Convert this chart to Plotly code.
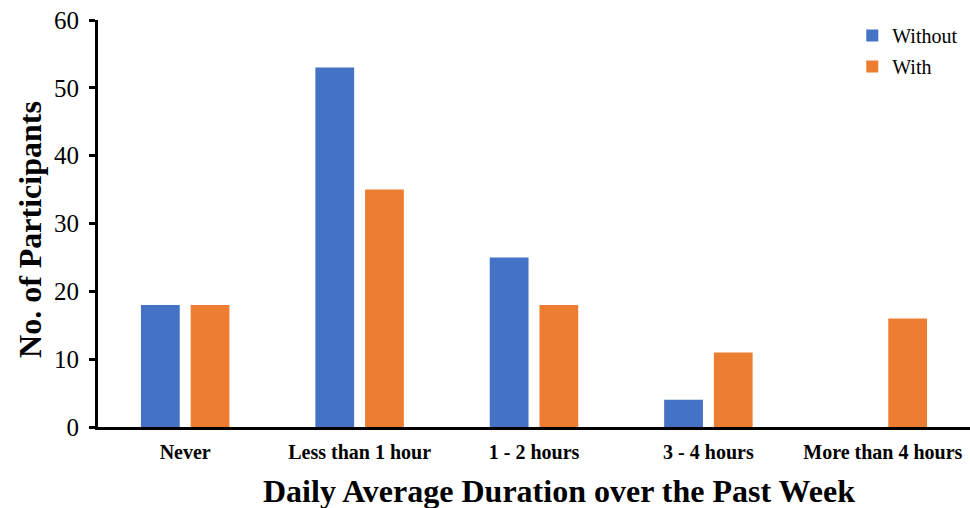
import plotly.graph_objects as go

categories = ["Never", "Less than 1 hour", "1 - 2 hours", "3 - 4 hours", "More than 4 hours"]
without_vals = [18, 53, 25, 4, 0]
with_vals = [18, 35, 18, 11, 16]
y_ticks = [0, 10, 20, 30, 40, 50, 60]
x_title = "Daily Average Duration over the Past Week"
y_title = "No. of Participants"

fig = go.Figure()
fig.add_trace(go.Bar(x=categories, y=without_vals, name="Without", legendgroup="a",
                     marker=dict(color="#4472C4", line=dict(width=0))))
fig.add_trace(go.Bar(x=categories, y=with_vals, name="With", legendgroup="b",
                     marker=dict(color="#ED7D31", line=dict(width=0))))

font_family = "Liberation Serif"
fig.update_layout(
    width=970, height=508,
    margin=dict(l=98, r=0, t=20, b=81),
    paper_bgcolor="white", plot_bgcolor="white",
    barmode="group", bargap=0.43, bargroupgap=0.22,
    font=dict(family=font_family, color="black"),
    legend=dict(x=0.865, y=1.01, xanchor="left", yanchor="top",
                font=dict(size=20, family=font_family), bgcolor="rgba(0,0,0,0)",
                itemwidth=30, tracegroupgap=2),
    showlegend=True,
    annotations=[
        dict(text="<b>" + x_title + "</b>", xref="paper", yref="paper", x=0.529, y=-0.157,
             xanchor="center", yanchor="middle", showarrow=False,
             font=dict(size=32, family=font_family, color="black")),
        dict(text="<b>" + y_title + "</b>", xref="paper", yref="paper", x=-0.078, y=0.4865,
             xanchor="center", yanchor="middle", showarrow=False, textangle=-90,
             font=dict(size=32, family=font_family, color="black")),
    ],
)
fig.update_xaxes(
    showline=True, linecolor="black", linewidth=3, ticks="",
    tickfont=dict(size=20, family=font_family, weight="bold"),
    ticklabelstandoff=5,
    range=[-0.5, 4.5],
)
fig.update_yaxes(
    range=[0, 60], tickvals=y_ticks, showgrid=False, zeroline=False,
    showline=True, linecolor="black", linewidth=3, ticks="outside", ticklen=6, tickwidth=3, tickcolor="black",
    tickfont=dict(size=25, family=font_family), ticklabelstandoff=5,
)
fig.write_html("out.html", post_script="document.body.style.margin='0';",
               config={"displayModeBar": False})
